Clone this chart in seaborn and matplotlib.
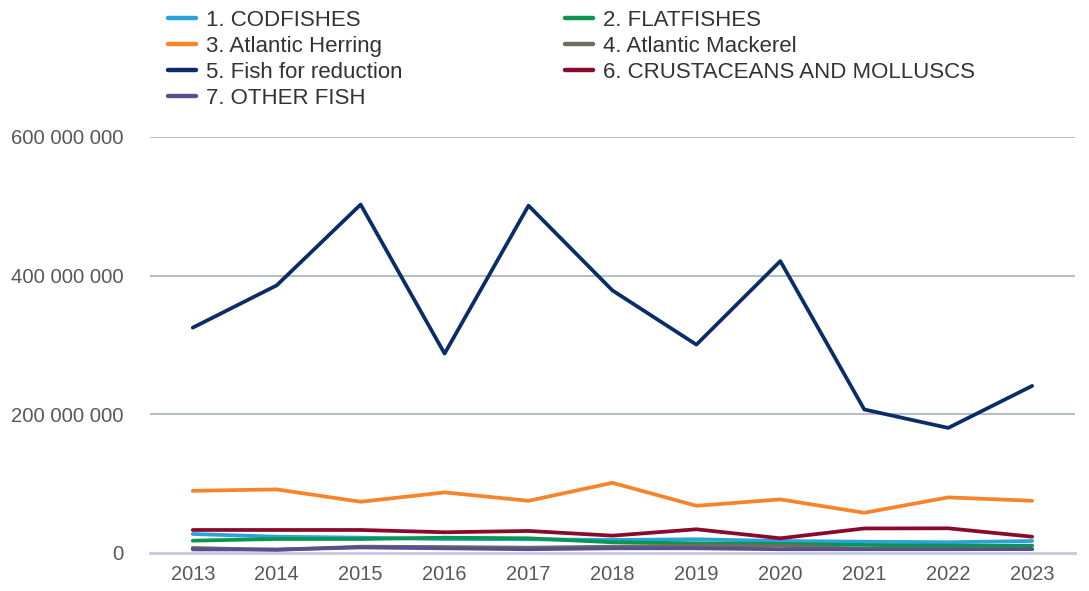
import matplotlib
matplotlib.use("Agg")
import matplotlib.pyplot as plt
from matplotlib.ticker import FuncFormatter
import seaborn as sns
import pandas as pd

years = [2013, 2014, 2015, 2016, 2017, 2018, 2019, 2020, 2021, 2022, 2023]

series_names = [
    "1. CODFISHES",
    "2. FLATFISHES",
    "3. Atlantic Herring",
    "4. Atlantic Mackerel",
    "5. Fish for reduction",
    "6. CRUSTACEANS AND MOLLUSCS",
    "7. OTHER FISH",
]

codfishes = [27.4e6, 23.5e6, 22.1e6, 20.2e6, 19.8e6, 18.8e6, 19.8e6, 17.3e6, 16.3e6, 15.5e6, 17.3e6]
flatfishes = [17.8e6, 20.2e6, 20.2e6, 22.1e6, 21.2e6, 15.5e6, 14.0e6, 13.0e6, 11.6e6, 10.6e6, 10.6e6]
atlantic_herring = [89.7e6, 91.7e6, 73.9e6, 87.4e6, 75.3e6, 101.2e6, 68.1e6, 77.3e6, 58.0e6, 80.2e6, 75.3e6]
atlantic_mackerel = [7.3e6, 4.4e6, 9.1e6, 8.6e6, 7.7e6, 9.1e6, 10.6e6, 10.6e6, 5.8e6, 5.6e6, 5.6e6]
fish_for_reduction = [325e6, 386e6, 502.6e6, 287.6e6, 501e6, 378.7e6, 300.5e6, 421e6, 207e6, 180.4e6, 241e6]
crustaceans_molluscs = [33.2e6, 33.2e6, 33.2e6, 29.9e6, 31.8e6, 25.0e6, 34.2e6, 21.2e6, 35.4e6, 35.6e6, 23.5e6]
other_fish = [5.1e6, 5.1e6, 8.0e6, 6.8e6, 5.4e6, 6.8e6, 6.8e6, 5.4e6, 5.4e6, 5.4e6, 5.6e6]

series_values = [codfishes, flatfishes, atlantic_herring, atlantic_mackerel,
                 fish_for_reduction, crustaceans_molluscs, other_fish]

colors = ["#2aa3dc", "#0b9650", "#f5842a", "#6e6e60", "#0b2d67", "#8a0a2c", "#5a4e8c"]

y_ticks = [0, 200_000_000, 400_000_000, 600_000_000]

rows = []
for name, vals in zip(series_names, series_values):
    for yr, v in zip(years, vals):
        rows.append({"year": yr, "value": v, "series": name})
df = pd.DataFrame(rows)

sns.set_theme(style="white")
plt.rcParams["font.family"] = ["Liberation Sans", "DejaVu Sans"]

fig = plt.figure(figsize=(10.89, 5.91), dpi=100)
ax = fig.add_axes([0.1377, 0.0643, 0.8494, 0.7039])

sns.lineplot(data=df, x="year", y="value", hue="series", hue_order=series_names,
             palette=colors, linewidth=2.7, ax=ax, legend=True, zorder=3)

ax.set_xlim(2012.49, 2023.51)
ax.set_ylim(0, 600_000_000)
ax.set_xticks(years)
ax.set_xticklabels([str(y) for y in years])
ax.set_yticks(y_ticks)
ax.yaxis.set_major_formatter(FuncFormatter(lambda v, _: f"{int(v):,}".replace(",", " ")))
ax.set_xlabel("")
ax.set_ylabel("")

for t in y_ticks[1:]:
    ax.axhline(t, color="#b0bec8", linewidth=1.4, zorder=1)

for side in ["top", "right", "left"]:
    ax.spines[side].set_visible(False)
ax.spines["bottom"].set_color("#c3c9e6")
ax.spines["bottom"].set_linewidth(2)

ax.tick_params(axis="y", length=0, pad=19, labelsize=14.6, labelcolor="#585858")
ax.tick_params(axis="x", length=0, pad=9, labelsize=14.4, labelcolor="#585858")

handles, labels = ax.get_legend_handles_labels()
ax.get_legend().remove()
# fill the two legend columns row by row: 1 2 / 3 4 / 5 6 / 7
order = [0, 2, 4, 6, 1, 3, 5]
leg = fig.legend([handles[i] for i in order], [labels[i] for i in order],
                 ncol=2, loc="upper left", bbox_to_anchor=(0.1465, 0.998),
                 frameon=False, fontsize=16, handlelength=1.25, handletextpad=0.45,
                 columnspacing=7.3, labelspacing=0.22, borderaxespad=0)
for h in leg.get_lines():
    h.set_linewidth(3.2)
for t in leg.get_texts():
    t.set_color("#333333")

fig.savefig("out.png", dpi=100)
